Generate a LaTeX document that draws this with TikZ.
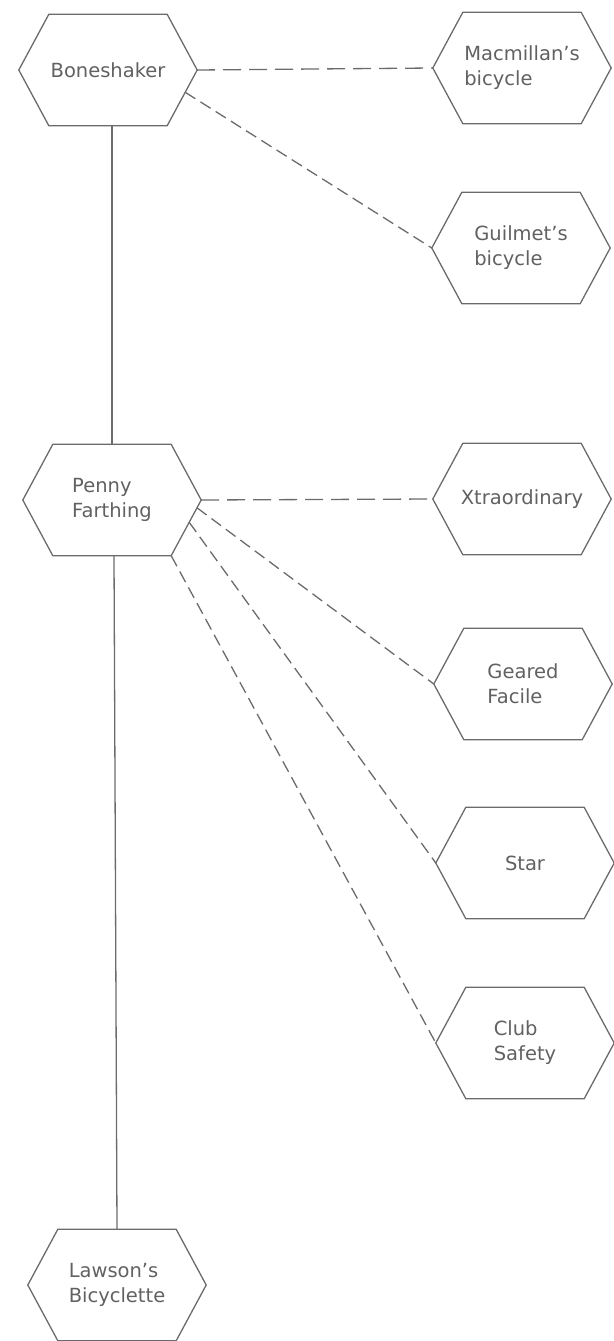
\documentclass[tikz,border=0pt]{standalone}
\usepackage{fontspec}
\setmainfont{DejaVu Sans}
\usetikzlibrary{calc}
\begin{document}
\begin{tikzpicture}[x=1pt,y=-1pt,
  hexbox/.style={rectangle, minimum width=178pt, minimum height=111pt, inner sep=0pt, align=left, font=\fontsize{19.5}{25}\selectfont, text=black!62},
  edge/.style={draw=black!58, line width=1.3pt},
  dashA/.style={edge, dash pattern=on 18pt off 8pt},
  dashB/.style={edge, dash pattern=on 12pt off 6pt}]
\useasboundingbox (0,0) rectangle (613,1341);
\node[hexbox] (bone) at (108,70) {Boneshaker};
\node[hexbox] (mac) at (522,68) {Macmillan's\\bicycle};
\node[hexbox] (gui) at (521,248) {Guilmet's\\bicycle};
\node[hexbox] (pf) at (112,500) {Penny\\Farthing};
\node[hexbox] (xtra) at (522,499) {Xtraordinary};
\node[hexbox] (gf) at (523,684) {Geared\\Facile};
\node[hexbox] (star) at (525,863) {Star};
\node[hexbox] (club) at (525,1043) {Club\\Safety};
\node[hexbox] (law) at (117,1285) {Lawson's\\Bicyclette};
\foreach \n in {bone,mac,gui,pf,xtra,gf,star,club,law}{
  \draw[edge, line join=round] (\n.west) -- ([xshift=30pt]\n.north west) -- ([xshift=-30pt]\n.north east) -- (\n.east) -- ([xshift=-30pt]\n.south east) coordinate (\n-se) -- ([xshift=30pt]\n.south west) -- cycle;
}
\draw[edge] ([xshift=4pt]bone.south) -- (pf.north);
\draw[edge] ([xshift=2pt]pf.south) -- (law.north);
\draw[dashA] (bone.east) -- (mac.west);
\draw[dashB] ($(bone.east)!0.4!(bone-se)$) -- (gui.west);
\draw[dashA] (pf.east) -- (xtra.west);
\draw[dashB] ($(pf.east)!0.14!(pf-se)$) -- (gf.west);
\draw[dashB] ($(pf.east)!0.4!(pf-se)$) -- (star.west);
\draw[dashB] (pf-se) -- (club.west);
\end{tikzpicture}
\end{document}
